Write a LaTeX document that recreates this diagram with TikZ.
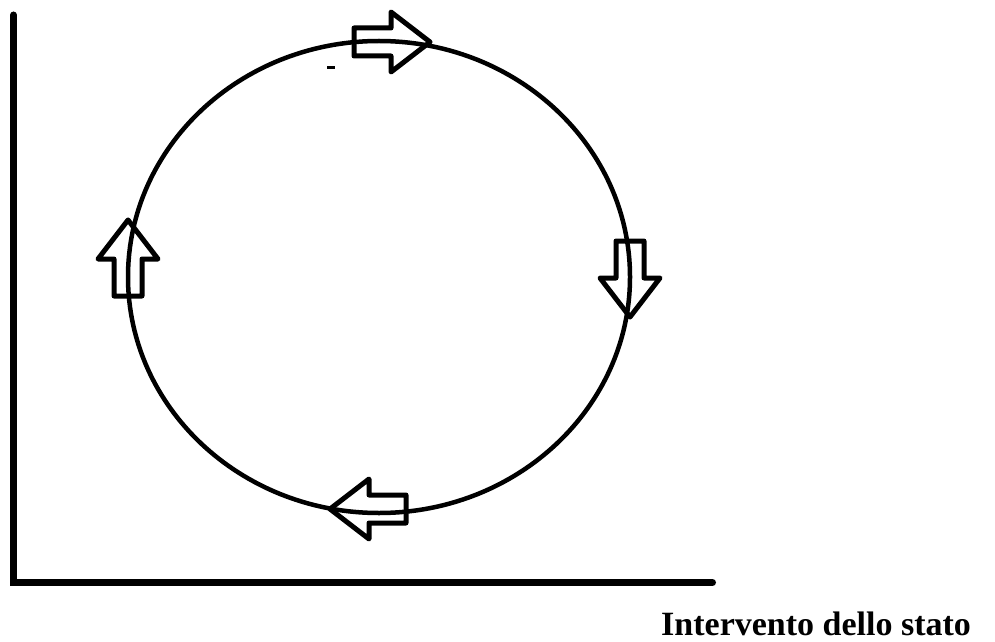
\documentclass[tikz,border=0pt]{standalone}
\usepackage{fontspec}
\setmainfont{Liberation Serif}
\usetikzlibrary{positioning}

\begin{document}
\begin{tikzpicture}[x=1pt, y=1pt, line join=miter,
  axis/.style={line width=7pt, line cap=round},
  cycleline/.style={line width=4.5pt},
  hollowarrow/.pic={\draw[line width=5pt, line join=round] (0,0) -- (-39,30) -- (-39,14) -- (-76,14) -- (-76,-14) -- (-39,-14) -- (-39,-30) -- cycle;}]
%
\useasboundingbox (0,0) rectangle (995,641);
%
\coordinate (O) at (13.5,58.5);
\coordinate (Ytop) at (13.5,626);
\coordinate (Xend) at (712.5,58.5);
\coordinate (C) at (379,364);
%
\draw[axis] (Ytop) |- (Xend);
\draw[cycleline] (C) ellipse [x radius=251, y radius=236];
\draw[line width=3pt] (327,573) -- (335,573);
%
\coordinate (Ttop) at (430,599);
\coordinate (Tright) at (630,324);
\coordinate (Tbottom) at (330,132);
\coordinate (Tleft) at (128,421);
\pic at (Ttop) {hollowarrow};
\pic[rotate=-90] at (Tright) {hollowarrow};
\pic[rotate=180] at (Tbottom) {hollowarrow};
\pic[rotate=90] at (Tleft) {hollowarrow};
%
\node (lab) [anchor=base west, inner sep=0pt, font=\fontsize{34}{40}\selectfont\bfseries] at (661,6) {Intervento dello stato};
\end{tikzpicture}
\end{document}
